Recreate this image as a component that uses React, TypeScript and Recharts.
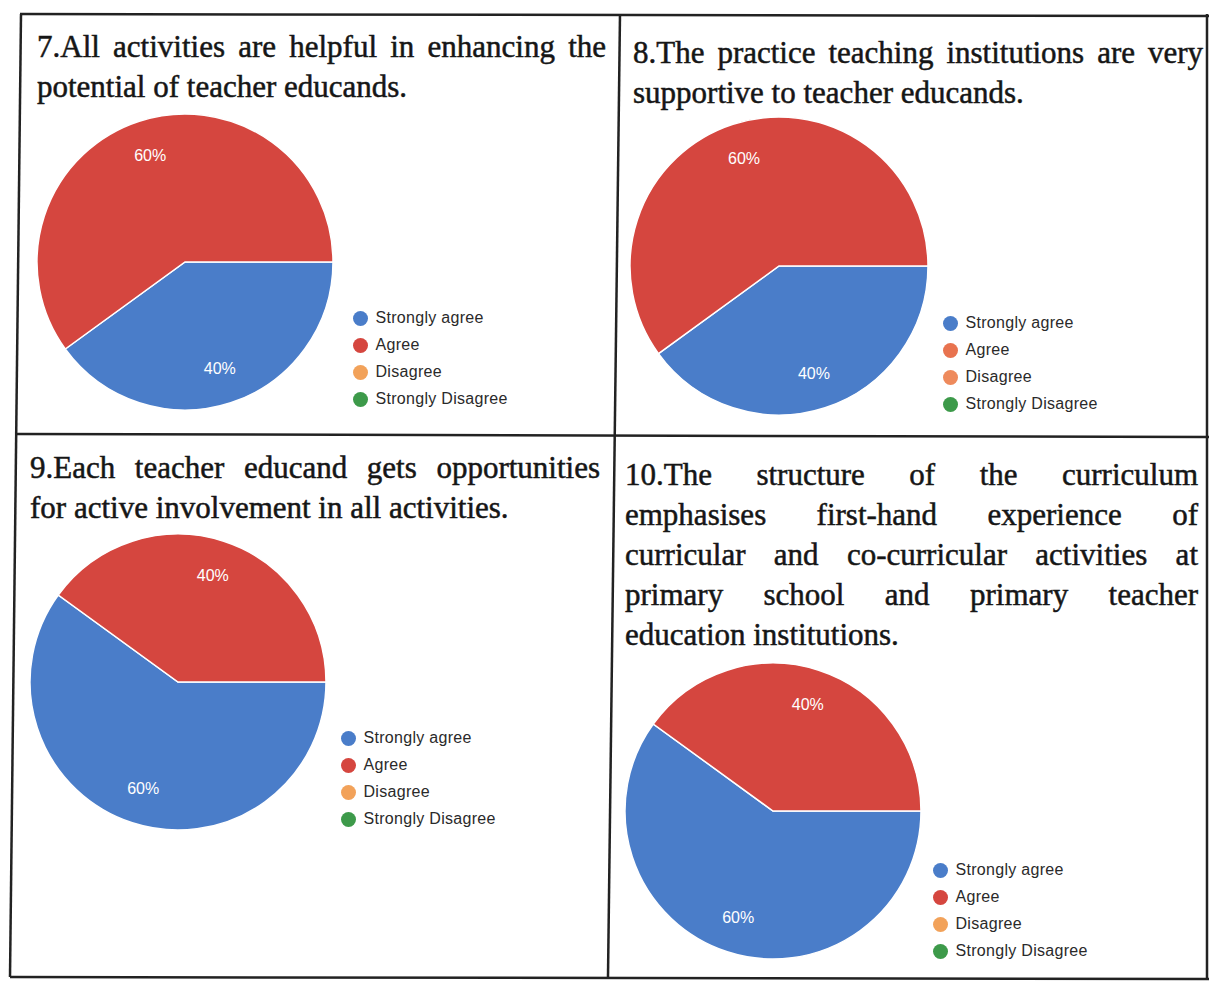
import React from "react";
import { PieChart, Pie, Cell, Legend } from "recharts";

// answer categories shared by all four questions
const categories = ["Strongly agree", "Agree", "Disagree", "Strongly Disagree"];
const sliceColors = ["#4a7dc9", "#d5463f", "#f2a25a", "#3d9a4a"];

// percentage of responses per category
const q7Values = [40, 60, 0, 0];
const q8Values = [40, 60, 0, 0];
const q9Values = [60, 40, 0, 0];
const q10Values = [60, 40, 0, 0];

// question titles, one entry per printed line
const q7Title = [
  "7.All activities are helpful in enhancing the",
  "potential of teacher educands.",
];
const q8Title = [
  "8.The practice teaching institutions are very",
  "supportive to teacher educands.",
];
const q9Title = [
  "9.Each teacher educand gets opportunities",
  "for active involvement in all activities.",
];
const q10Title = [
  "10.The structure of the curriculum",
  "emphasises first-hand experience of",
  "curricular and co-curricular activities at",
  "primary school and primary teacher",
  "education institutions.",
];

const RADIAN = Math.PI / 180;

interface PanelProps {
  title: string[];
  values: number[];
  legendColors?: string[];
  titleLeft: number;
  titleTop: number;
  titleWidth: number;
  cx: number;
  cy: number;
  r: number;
  legendX: number;
  legendY: number;
}

const renderPercent = ({ cx, cy, midAngle, outerRadius, value }: any) => {
  if (!value) return <g />;
  const radius = outerRadius * 0.76;
  const x = cx + radius * Math.cos(-midAngle * RADIAN);
  const y = cy + radius * Math.sin(-midAngle * RADIAN);
  return (
    <text
      x={x}
      y={y}
      fill="#fff"
      textAnchor="middle"
      dominantBaseline="central"
      fontSize="16"
      fontFamily="Liberation Sans, Arial, sans-serif"
    >
      {`${value}%`}
    </text>
  );
};

const Panel = ({
  title,
  values,
  legendColors = sliceColors,
  titleLeft,
  titleTop,
  titleWidth,
  cx,
  cy,
  r,
  legendX,
  legendY,
}: PanelProps) => {
  const data = categories.map((name, i) => ({ name, value: values[i] }));
  const chartLeft = cx - 160;
  const chartTop = cy - 160;

  return (
    <>
      <div
        style={{
          position: "absolute",
          left: titleLeft,
          top: titleTop,
          width: titleWidth,
          fontFamily: "'Liberation Serif', 'Times New Roman', serif",
          fontSize: 31,
          lineHeight: "40px",
          color: "#161616",
          WebkitTextStroke: "0.5px #161616",
        }}
      >
        {title.map((line, i) => (
          <div
            key={i}
            style={{
              whiteSpace: "nowrap",
              textAlign: i < title.length - 1 ? "justify" : "left",
              textAlignLast: i < title.length - 1 ? "justify" : "left",
            }}
          >
            {line}
          </div>
        ))}
      </div>
      <div style={{ position: "absolute", left: chartLeft, top: chartTop }}>
        <PieChart
          width={520}
          height={330}
          margin={{ top: 0, right: 0, bottom: 0, left: 0 }}
        >
          <Pie
            data={data}
            dataKey="value"
            nameKey="name"
            cx={160}
            cy={160}
            outerRadius={r}
            startAngle={0}
            endAngle={-360}
            labelLine={false}
            label={renderPercent}
            isAnimationActive={false}
            stroke="#fff"
            strokeWidth={1.5}
          >
            {data.map((entry, index) => (
              <Cell key={`cell-${index}`} fill={sliceColors[index]} />
            ))}
          </Pie>
          <Legend
            layout="vertical"
            verticalAlign="middle"
            align="center"
            wrapperStyle={{
              left: legendX - 7.5 - chartLeft,
              top: legendY - 13.5 - chartTop,
              width: 200,
            }}
            content={() => (
              <div>
                {categories.map((name, i) => (
                  <div
                    key={name}
                    style={{
                      display: "flex",
                      alignItems: "center",
                      height: 27,
                      fontFamily: "'Liberation Sans', Arial, sans-serif",
                      fontSize: 16,
                      letterSpacing: "0.3px",
                      color: "#2a2a2a",
                    }}
                  >
                    <span
                      style={{
                        width: 15,
                        height: 15,
                        borderRadius: "50%",
                        background: legendColors[i],
                        marginRight: 8,
                        flexShrink: 0,
                      }}
                    />
                    {name}
                  </div>
                ))}
              </div>
            )}
          />
        </PieChart>
      </div>
    </>
  );
};

const App = () => {
  return (
    <div
      style={{
        position: "absolute",
        left: 0,
        top: 0,
        width: 1209,
        height: 981,
        background: "#fff",
        overflow: "hidden",
      }}
    >
      {/* scanned table borders */}
      <svg
        width={1209}
        height={981}
        style={{ position: "absolute", left: 0, top: 0 }}
      >
        <g stroke="#222" strokeWidth={2.5} fill="none">
          <line x1={20} y1={14} x2={1209} y2={16} />
          <line x1={21} y1={14} x2={10} y2={977} />
          <line x1={620} y1={14} x2={608} y2={977} />
          <line x1={16} y1={434} x2={1209} y2={437} />
          <line x1={10} y1={977} x2={1209} y2={979} />
          <line x1={1207} y1={14} x2={1207} y2={979} />
        </g>
      </svg>

      <Panel
        title={q7Title}
        values={q7Values}
        titleLeft={37}
        titleTop={27}
        titleWidth={569}
        cx={185}
        cy={262}
        r={148}
        legendX={360}
        legendY={318}
      />
      <Panel
        title={q8Title}
        values={q8Values}
        legendColors={["#4a7dc9", "#e8734f", "#ee8a5c", "#3d9a4a"]}
        titleLeft={633}
        titleTop={33}
        titleWidth={570}
        cx={779}
        cy={266}
        r={149}
        legendX={950}
        legendY={323}
      />
      <Panel
        title={q9Title}
        values={q9Values}
        titleLeft={30}
        titleTop={448}
        titleWidth={570}
        cx={178}
        cy={682}
        r={148}
        legendX={348}
        legendY={738}
      />
      <Panel
        title={q10Title}
        values={q10Values}
        titleLeft={625}
        titleTop={455}
        titleWidth={573}
        cx={773}
        cy={811}
        r={148}
        legendX={940}
        legendY={870}
      />
    </div>
  );
};

export default App;
